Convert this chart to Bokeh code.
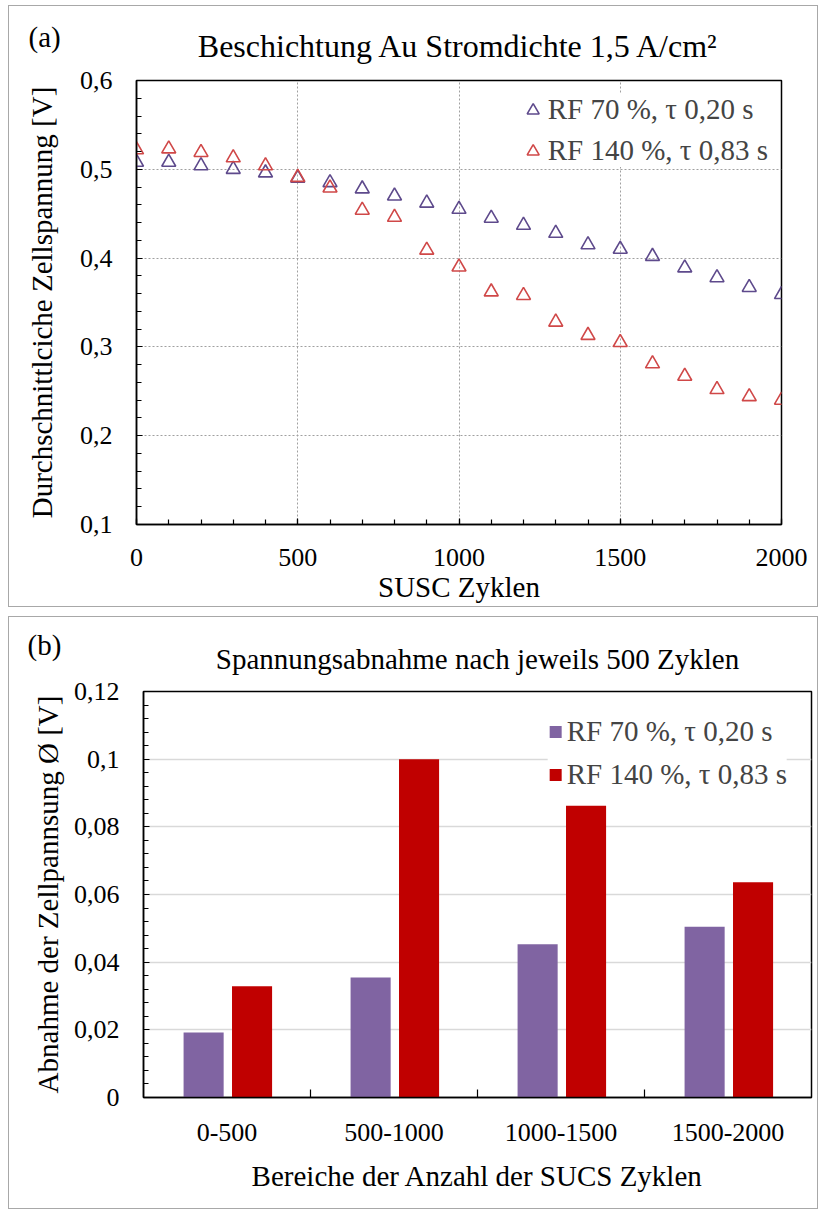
from bokeh.plotting import figure
from bokeh.models import FixedTicker, Legend, LegendItem, Title
from bokeh.embed import file_html
from bokeh.resources import INLINE

FONT = "Liberation Serif"

# ---------- data (a) ----------
cycles = [0, 100, 200, 300, 400, 500, 600, 700, 800, 900, 1000,
          1100, 1200, 1300, 1400, 1500, 1600, 1700, 1800, 1900, 2000]
v_rf70 = [0.508, 0.508, 0.504, 0.500, 0.496, 0.490, 0.485, 0.478, 0.470, 0.462, 0.455,
          0.445, 0.437, 0.428, 0.415, 0.410, 0.402, 0.389, 0.378, 0.367, 0.359]
v_rf140 = [0.522, 0.523, 0.519, 0.513, 0.504, 0.491, 0.479, 0.454, 0.446, 0.409, 0.390,
           0.362, 0.358, 0.328, 0.313, 0.305, 0.281, 0.267, 0.252, 0.244, 0.240]
label_rf70 = "RF 70 %, τ 0,20 s"
label_rf140 = "RF 140 %, τ 0,83 s"

# ---------- data (b) ----------
ranges = ["0-500", "500-1000", "1000-1500", "1500-2000"]
drop_rf70 = [0.0192, 0.0355, 0.0453, 0.0505]
drop_rf140 = [0.0329, 0.1000, 0.0862, 0.0636]

# ---------- tick labels ----------
xa_ticks = [0, 500, 1000, 1500, 2000]
ya_ticks = [0.1, 0.2, 0.3, 0.4, 0.5, 0.6]
ya_labels = ["0,1", "0,2", "0,3", "0,4", "0,5", "0,6"]
yb_ticks = [0, 0.02, 0.04, 0.06, 0.08, 0.1, 0.12]
yb_labels = ["0", "0,02", "0,04", "0,06", "0,08", "0,1", "0,12"]

PURPLE_M = "#5e4a8c"
RED_M = "#d04848"
PURPLE_B = "#8064a2"
RED_B = "#c00000"
TICK_FS = "26px"
LABEL_FS = "29px"
LEGEND_FS = "29px"


def style_axis(ax):
    ax.axis_line_color = "black"
    ax.axis_line_width = 1.5
    ax.major_label_text_font = FONT
    ax.major_label_text_font_size = TICK_FS
    ax.major_label_text_color = "black"
    ax.axis_label_text_font = FONT
    ax.axis_label_text_font_size = LABEL_FS
    ax.axis_label_text_font_style = "normal"
    ax.axis_label_text_color = "black"
    ax.major_tick_out = 0
    ax.major_tick_in = 6
    ax.minor_tick_out = 0
    ax.minor_tick_in = 5
    ax.major_tick_line_color = "black"
    ax.minor_tick_line_color = "black"
    ax.major_tick_line_width = 1.2
    ax.minor_tick_line_width = 1.2


def add_titles(p, main_text, main_size, main_standoff, tag, tag_offset, tag_standoff):
    p.add_layout(Title(text=main_text, align="center", standoff=main_standoff,
                       text_font=FONT, text_font_size=main_size,
                       text_font_style="normal", text_color="black"), "above")
    p.add_layout(Title(text=tag, align="left", offset=tag_offset, standoff=tag_standoff,
                       text_font=FONT, text_font_size="29px",
                       text_font_style="normal", text_color="black"), "above")


# ================= (a) =================
pa = figure(width=810, height=602, output_backend="svg", toolbar_location=None,
            x_range=(0, 2000), y_range=(0.1, 0.6), title_location=None,
            min_border_left=127, min_border_right=38, min_border_top=74, min_border_bottom=84)
pa.styles = {"border": "1.5px solid #a8a8a8", "margin": "5px 0px 0px 8px"}
pa.outline_line_color = "black"
pa.outline_line_width = 1.5
pa.background_fill_color = "white"
pa.border_fill_color = "white"
add_titles(pa, "Beschichtung Au Stromdichte 1,5 A/cm²", "32px", 33, "(a)", -108, -86)

pa.xaxis.ticker = FixedTicker(ticks=xa_ticks, minor_ticks=list(range(0, 2001, 100)))
pa.yaxis.ticker = FixedTicker(ticks=ya_ticks, minor_ticks=[0.1 + 0.02 * i for i in range(26)])
pa.yaxis.major_label_overrides = {t: l for t, l in zip(ya_ticks, ya_labels)}
style_axis(pa.xaxis[0])
style_axis(pa.yaxis[0])
pa.xaxis.axis_label = "SUSC Zyklen"
pa.yaxis.axis_label = "Durchschnittlciche Zellspannung [V]"
pa.xaxis.major_label_standoff = 24
pa.xaxis.axis_label_standoff = 2
pa.yaxis.major_label_standoff = 24
pa.yaxis.axis_label_standoff = 19

pa.grid.grid_line_color = "#a0a0a0"
pa.grid.grid_line_dash = "2 2"
pa.grid.grid_line_width = 1

r70 = pa.scatter(cycles, v_rf70, marker="triangle", size=14, fill_color=None,
                 line_color=PURPLE_M, line_width=1.6)
r140 = pa.scatter(cycles, v_rf140, marker="triangle", size=14, fill_color=None,
                  line_color=RED_M, line_width=1.6)

leg_a = Legend(items=[LegendItem(label=label_rf70, renderers=[r70]),
                      LegendItem(label=label_rf140, renderers=[r140])],
               location="top_right")
leg_a.label_text_font = FONT
leg_a.label_text_font_size = LEGEND_FS
leg_a.label_height = 32
leg_a.glyph_height = 32
leg_a.glyph_width = 30
leg_a.label_standoff = 0
leg_a.spacing = 8
leg_a.margin = 13
leg_a.padding = 8
leg_a.border_line_color = None
leg_a.background_fill_color = "white"
leg_a.background_fill_alpha = 1
pa.add_layout(leg_a)

# ================= (b) =================
pb = figure(width=810, height=593, output_backend="svg", toolbar_location=None,
            x_range=(0, len(ranges)), y_range=(0, 0.12), title_location=None,
            min_border_left=134, min_border_right=8, min_border_top=74, min_border_bottom=113)
pb.styles = {"border": "1.5px solid #a8a8a8", "margin": "9px 0px 0px 8px"}
pb.outline_line_color = "black"
pb.outline_line_width = 1.5
pb.background_fill_color = "white"
pb.border_fill_color = "white"
add_titles(pb, "Spannungsabnahme nach jeweils 500 Zyklen", "29px", 34, "(b)", -116, -74)

centers = [i + 0.5 for i in range(len(ranges))]
pb.xaxis.ticker = FixedTicker(ticks=centers, minor_ticks=list(range(1, len(ranges))))
pb.xaxis.major_label_overrides = {c: r for c, r in zip(centers, ranges)}
pb.yaxis.ticker = FixedTicker(ticks=yb_ticks, minor_ticks=[0.004 * i for i in range(31)])
pb.yaxis.major_label_overrides = {t: l for t, l in zip(yb_ticks, yb_labels)}
style_axis(pb.xaxis[0])
style_axis(pb.yaxis[0])
pb.xaxis.major_tick_in = 0
pb.xaxis.minor_tick_in = 8
pb.xaxis.axis_label = "Bereiche der Anzahl der SUCS Zyklen"
pb.yaxis.axis_label = "Abnahme der Zellpannsung Ø [V]"
pb.xaxis.major_label_standoff = 26
pb.xaxis.axis_label_standoff = 16
pb.yaxis.major_label_standoff = 24
pb.yaxis.axis_label_standoff = 7

pb.xgrid.grid_line_color = None
pb.ygrid.grid_line_color = "#d9d9d9"
pb.ygrid.grid_line_width = 1.5

b70 = pb.vbar(x=[c - 0.14 for c in centers], top=drop_rf70, width=0.24,
              fill_color=PURPLE_B, line_color=None)
b140 = pb.vbar(x=[c + 0.15 for c in centers], top=drop_rf140, width=0.24,
               fill_color=RED_B, line_color=None)

leg_b = Legend(items=[LegendItem(label=label_rf70, renderers=[b70]),
                      LegendItem(label=label_rf140, renderers=[b140])],
               location="top_right")
leg_b.label_text_font = FONT
leg_b.label_text_font_size = LEGEND_FS
leg_b.label_height = 32
leg_b.glyph_height = 15
leg_b.glyph_width = 15
leg_b.label_standoff = 4
leg_b.spacing = 10
leg_b.margin = 24
leg_b.padding = 8
leg_b.border_line_color = None
leg_b.background_fill_color = "white"
leg_b.background_fill_alpha = 1
pb.add_layout(leg_b)

open("out.html", "w").write(file_html([pa, pb], INLINE))
